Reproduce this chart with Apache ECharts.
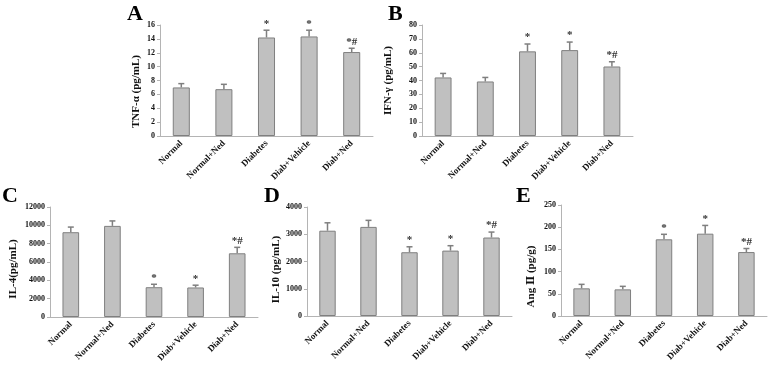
<!DOCTYPE html>
<html>
<head>
<meta charset="utf-8">
<script src="https://cdn.jsdelivr.net/npm/echarts@6/dist/echarts.min.js"></script>
<style>
  html, body { margin: 0; padding: 0; background: #fff; }
  #chart { width: 773px; height: 369px; }
</style>
</head>
<body>
<div id="chart"></div>
<script>
// groups, same for every panel
const categories = ["Normal", "Normal+Ned", "Diabetes", "Diab+Vehicle", "Diab+Ned"];

// A: TNF-a
const tnfMean = [7.0, 6.75, 14.2, 14.35, 12.1];
const tnfErr = [0.55, 0.7, 1.05, 0.9, 0.55];
const tnfMarks = ["", "", "*", "*", "*#"];

// B: IFN-gamma
const ifnMean = [42.2, 39.3, 61.0, 61.9, 50.1];
const ifnErr = [2.9, 2.9, 5.3, 5.8, 3.4];
const ifnMarks = ["", "", "*", "*", "*#"];

// C: IL-4
const il4Mean = [9250, 9940, 3250, 3220, 6950];
const il4Err = [560, 540, 320, 250, 650];
const il4Marks = ["", "", "*", "*", "*#"];

// D: IL-10
const il10Mean = [3130, 3270, 2340, 2400, 2880];
const il10Err = [290, 240, 200, 180, 200];
const il10Marks = ["", "", "*", "*", "*#"];

// E: Ang II
const angMean = [62.3, 60.0, 172.7, 185.4, 144.0];
const angErr = [9.0, 6.8, 11.3, 18.6, 8.0];
const angMarks = ["", "", "*", "*", "*#"];

// gap / shift = where the y title sits next to its axis
const panels = [
  { letter: "A", name: "TNF-α (pg/mL)", mean: tnfMean, err: tnfErr, marks: tnfMarks, max: 16, interval: 2,
    grid: { left: 160, top: 25, width: 213, height: 111 }, letterPos: [127, 3], gap: 18, shift: 11 },
  { letter: "B", name: "IFN-γ (pg/mL)", mean: ifnMean, err: ifnErr, marks: ifnMarks, max: 80, interval: 10,
    grid: { left: 422, top: 25, width: 211, height: 111 }, letterPos: [388, 3], gap: 28, shift: 0 },
  { letter: "C", name: "IL-4(pg/mL)", mean: il4Mean, err: il4Err, marks: il4Marks, max: 12000, interval: 2000,
    grid: { left: 50, top: 207, width: 208, height: 110 }, letterPos: [2, 185], gap: 31, shift: 7 },
  { letter: "D", name: "IL-10 (pg/mL)", mean: il10Mean, err: il10Err, marks: il10Marks, max: 4000, interval: 1000,
    grid: { left: 307, top: 207, width: 205, height: 109 }, letterPos: [264, 185], gap: 25, shift: 8 },
  { letter: "E", name: "Ang Ⅱ (pg/g)", mean: angMean, err: angErr, marks: angMarks, max: 250, interval: 50,
    grid: { left: 561, top: 205, width: 206, height: 111 }, letterPos: [516, 185], gap: 24, shift: 16 }
];

const serif = "'Liberation Serif', 'DejaVu Serif', serif";

// whisker (upper half only) + cap + significance marks
function makeErrorBar(marks) {
  return function (params, api) {
    const x = api.value(0);
    const base = api.coord([x, api.value(1)]);
    const end = api.coord([x, api.value(1) + api.value(2)]);
    const cap = 3;
    return {
      type: "group",
      children: [
        { type: "line", shape: { x1: base[0], y1: base[1], x2: end[0], y2: end[1] },
          style: { stroke: "#7f7f7f", lineWidth: 1.5 } },
        { type: "line", shape: { x1: end[0] - cap, y1: end[1], x2: end[0] + cap, y2: end[1] },
          style: { stroke: "#7f7f7f", lineWidth: 1.5 } },
        { type: "text", x: end[0], y: end[1] - 1,
          style: { text: marks[params.dataIndex], fill: "#333", font: "bold 11px " + serif,
                   textAlign: "center", textVerticalAlign: "bottom" } }
      ]
    };
  };
}

const grid = [], xAxis = [], yAxis = [], series = [], graphic = [];
panels.forEach(function (p, i) {
  grid.push(Object.assign({ containLabel: false }, p.grid));
  xAxis.push({
    type: "category", gridIndex: i, data: categories,
    axisLine: { lineStyle: { color: "#b4b4b4", width: 1 } },
    axisTick: { length: 3, lineStyle: { color: "#b4b4b4" } },
    axisLabel: { rotate: 45, margin: 6, color: "#111", fontFamily: serif, fontWeight: "bold", fontSize: 9, interval: 0 }
  });
  yAxis.push({
    type: "value", gridIndex: i, min: 0, max: p.max, interval: p.interval,
    name: p.name, nameLocation: "middle", nameRotate: 90, nameGap: p.gap,
    nameTextStyle: { color: "#111", fontFamily: serif, fontWeight: "bold", fontSize: 11,
                     padding: [0, 2 * p.shift, 0, 0] },
    axisLine: { show: true, lineStyle: { color: "#b4b4b4", width: 1 } },
    axisTick: { show: true, length: 3, lineStyle: { color: "#b4b4b4" } },
    splitLine: { show: false },
    axisLabel: { margin: 5, color: "#111", fontFamily: serif, fontWeight: "bold", fontSize: 8,
                 formatter: function (v) { return String(v); } }
  });
  series.push({
    type: "bar", xAxisIndex: i, yAxisIndex: i, data: p.mean, barWidth: "40%",
    itemStyle: { color: "#c0c0c0", borderColor: "#7f7f7f", borderWidth: 1 },
    silent: true
  });
  series.push({
    type: "custom", xAxisIndex: i, yAxisIndex: i, renderItem: makeErrorBar(p.marks), z: 5,
    data: p.mean.map(function (m, k) { return [k, m, p.err[k]]; })
  });
  graphic.push({
    type: "text", left: p.letterPos[0], top: p.letterPos[1],
    style: { text: p.letter, font: "bold 22px " + serif, fill: "#000" }
  });
});

const chart = echarts.init(document.getElementById("chart"));
chart.setOption({
  animation: false,
  backgroundColor: "#fff",
  grid: grid,
  xAxis: xAxis,
  yAxis: yAxis,
  series: series,
  graphic: graphic
});
</script>
</body>
</html>
